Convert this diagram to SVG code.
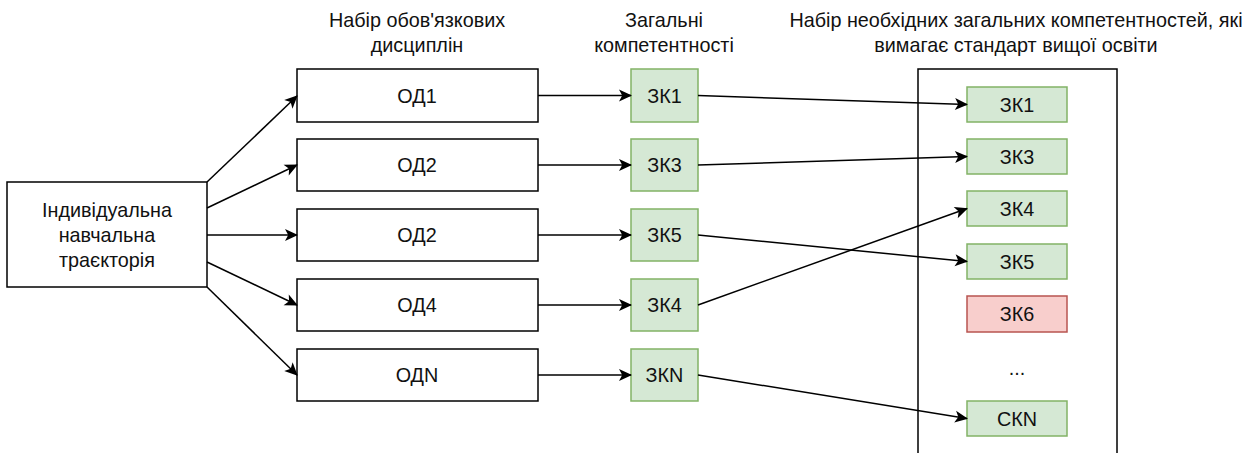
<svg xmlns="http://www.w3.org/2000/svg" width="1253" height="453" viewBox="0 0 1253 453">
<style>
text{font-family:"Liberation Sans",Arial,sans-serif;font-size:19.8px;fill:#111;text-anchor:middle;dominant-baseline:central}
.box{fill:#fff;stroke:#000;stroke-width:1.5}
.g{fill:#d5e8d4;stroke:#82b366;stroke-width:1.5}
.r{fill:#f8cecc;stroke:#b85450;stroke-width:1.5}
.c{fill:none;stroke:#000;stroke-width:1.5;marker-end:url(#a)}
</style>
<defs>
<marker id="a" viewBox="0 0 13 13" refX="12" refY="6.5" markerWidth="13" markerHeight="13" markerUnits="userSpaceOnUse" orient="auto" overflow="visible">
<path d="M0,0.5 L13,6.5 L0,12.5 L3.2,6.5 Z" fill="#000"/>
</marker>
</defs>
<g id="headers">
<text x="417" y="20">Набір обов'язкових</text>
<text x="417" y="45">дисциплін</text>
<text x="664" y="20">Загальні</text>
<text x="664" y="45">компетентності</text>
<text x="1016" y="20">Набір необхідних загальних компетентностей, які</text>
<text x="1016" y="45">вимагає стандарт вищої освіти</text>
</g>
<g id="container"><rect class="box" x="918" y="69" width="199" height="400"/></g>
<g id="traj"><rect class="box" x="7" y="182" width="200" height="105"/>
<text x="107" y="210">Індивідуальна</text><text x="107" y="235">навчальна</text><text x="107" y="260">траєкторія</text></g>
<g id="od1"><rect class="box" x="297" y="69" width="241" height="53"/><text x="417" y="95.5">ОД1</text></g>
<g id="od2"><rect class="box" x="297" y="139" width="241" height="52"/><text x="417" y="165">ОД2</text></g>
<g id="od2b"><rect class="box" x="297" y="209" width="241" height="52"/><text x="417" y="235">ОД2</text></g>
<g id="od4"><rect class="box" x="297" y="279" width="241" height="52"/><text x="417" y="305">ОД4</text></g>
<g id="odn"><rect class="box" x="297" y="349" width="241" height="52"/><text x="417" y="375">ОДN</text></g>
<g id="zk1"><rect class="g" x="631" y="69" width="67" height="53"/><text x="664.5" y="95.5">ЗК1</text></g>
<g id="zk3"><rect class="g" x="631" y="139" width="67" height="52"/><text x="664.5" y="165">ЗК3</text></g>
<g id="zk5"><rect class="g" x="631" y="209" width="67" height="52"/><text x="664.5" y="235">ЗК5</text></g>
<g id="zk4"><rect class="g" x="631" y="279" width="67" height="52"/><text x="664.5" y="305">ЗК4</text></g>
<g id="zkn"><rect class="g" x="631" y="349" width="67" height="52"/><text x="664.5" y="375">ЗКN</text></g>
<g id="s1"><rect class="g" x="967" y="87" width="100" height="35"/><text x="1017" y="104.5">ЗК1</text></g>
<g id="s3"><rect class="g" x="967" y="139" width="100" height="35"/><text x="1017" y="156.5">ЗК3</text></g>
<g id="s4"><rect class="g" x="967" y="191" width="100" height="35"/><text x="1017" y="208.5">ЗК4</text></g>
<g id="s5"><rect class="g" x="967" y="244" width="100" height="35"/><text x="1017" y="261.5">ЗК5</text></g>
<g id="s6"><rect class="r" x="967" y="296" width="100" height="36"/><text x="1017" y="314">ЗК6</text></g>
<g id="dots"><text x="1017" y="368">...</text></g>
<g id="skn"><rect class="g" x="967" y="401" width="100" height="35"/><text x="1017" y="418.5">СКN</text></g>
<g id="connectors">
<path class="c" d="M207,182 L297,96"/>
<path class="c" d="M207,208 L297,165"/>
<path class="c" d="M207,235 L297,235"/>
<path class="c" d="M207,262 L297,305"/>
<path class="c" d="M207,287 L297,375"/>
<path class="c" d="M538,95.5 L631,95.5"/>
<path class="c" d="M538,165 L631,165"/>
<path class="c" d="M538,235 L631,235"/>
<path class="c" d="M538,305 L631,305"/>
<path class="c" d="M538,375 L631,375"/>
<path class="c" d="M698,95.5 L967,104.5"/>
<path class="c" d="M698,165 L967,156.5"/>
<path class="c" d="M698,235 L967,261.5"/>
<path class="c" d="M698,305 L967,208.5"/>
<path class="c" d="M698,375 L967,418.5"/>
</g>
</svg>
